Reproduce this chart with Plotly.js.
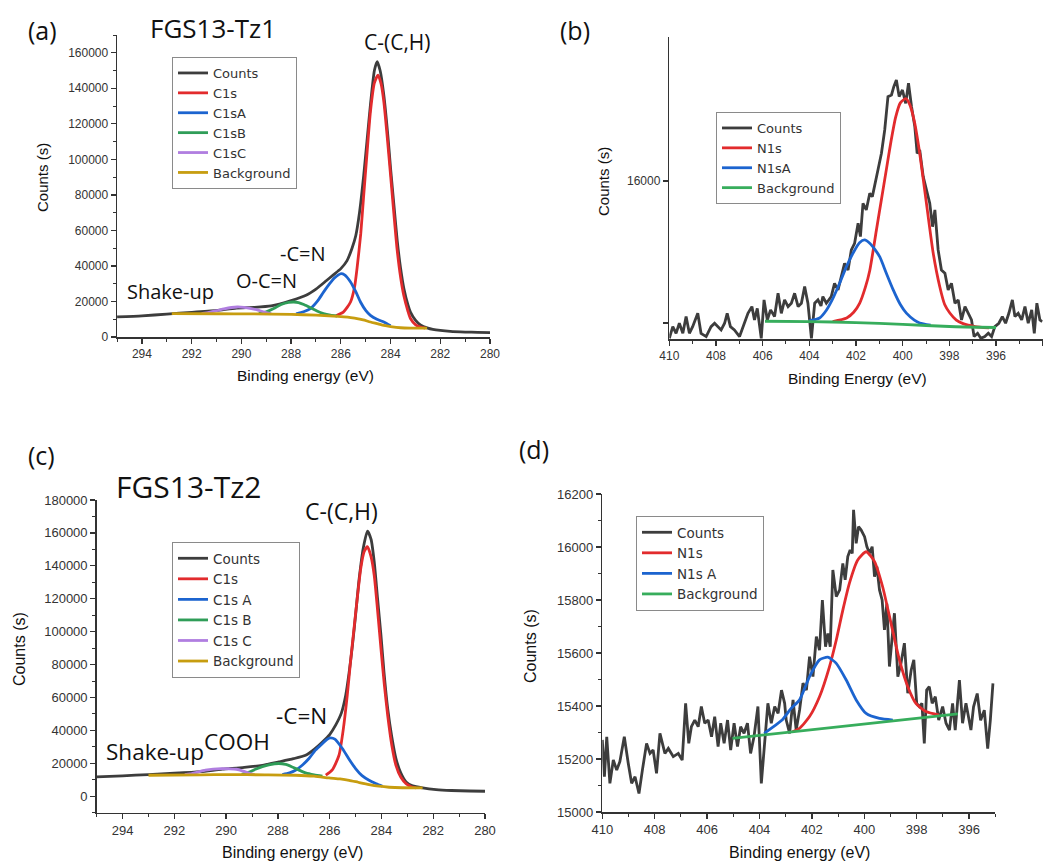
<!DOCTYPE html>
<html><head><meta charset="utf-8">
<script src="https://cdn.plot.ly/plotly-3.0.1.min.js"></script>
<style>html,body{margin:0;padding:0;background:#fff}#chart{width:1053px;height:861px}</style>
</head><body><div id="chart"></div>
<script>
// ---------- Panel (a) FGS13-Tz1, C1s ----------
const aCountsX = [295,294,293,292,291,290.2,289.5,288.8,288,287.4,287,286.6,286.3,286,285.75,285.55,285.4,285.25,285.08,284.95,284.8,284.65,284.54,284.42,284.27,284.1,284.0,283.85,283.73,283.6,283.46,283.3,283.2,283.0,282.8,282.5,282.3,282.0,281.6,281,280.5,280];
const aCountsY = [11300,11900,12900,13900,15000,16300,16700,17500,20500,23500,27000,31500,35000,38500,43000,50000,57000,70000,91000,110000,132000,150000,155000,150000,136000,112000,95000,72000,54000,39000,27000,18000,14000,9500,6800,5000,4300,3700,3200,2800,2600,2500];
const aC1sX = [286.2,285.9,285.61,285.45,285.35,285.2,285.08,284.95,284.81,284.65,284.5,284.38,284.27,284.13,284.0,283.87,283.74,283.6,283.47,283.3,283.2,283.0,282.8,282.6];
const aC1sY = [12000,14000,19700,28000,38500,58000,79800,103000,126800,143000,147400,142500,132400,112000,91100,70000,49800,34000,23500,14500,10400,7000,5600,5000];
const aC1sAX = [287.8,287.5,287.22,286.95,286.69,286.45,286.28,286.1,285.99,285.85,285.61,285.4,285.21,285.0,284.81,284.55,284.27,284.0];
const aC1sAY = [13000,14200,16000,20000,25400,30000,32900,35000,35700,35000,31000,25500,19700,15000,12200,10000,8400,6300];
const aC1sBX = [289.3,289.0,288.7,288.4,288.1,287.89,287.7,287.49,287.2,286.96,286.7,286.42,286.15];
const aC1sBY = [13100,14200,16000,18300,19500,19700,19400,18300,16300,14600,13200,12300,11800];
const aC1sCX = [291.6,291.3,291.0,290.7,290.4,290.17,289.9,289.6,289.3,289.0,288.8];
const aC1sCY = [13200,13900,14800,15800,16600,16900,16700,16000,15000,13700,13100];
const aBgX = [292.8,291,289.6,288,287,286.3,285.88,285.6,285.35,285.1,284.81,284.5,284.27,284.0,283.6,283.2,282.53];
const aBgY = [13200,13100,13000,12700,12300,11800,11300,10900,10400,9600,8450,7400,6570,5900,5200,5000,5000];

// ---------- Panel (b) N1s ----------
const bCountsX = [410.0,409.85,409.71,409.57,409.42,409.28,409.14,409.0,408.78,408.64,408.42,408.21,408.06,407.92,407.78,407.63,407.52,407.38,407.21,406.99,406.78,406.63,406.46,406.35,406.23,406.06,405.94,405.8,405.66,405.49,405.34,405.2,405.06,404.91,404.77,404.63,404.48,404.34,404.2,404.06,403.91,403.77,403.63,403.5,403.42,403.27,403.06,402.92,402.77,402.63,402.49,402.34,402.2,402.06,401.91,401.81,401.7,401.56,401.41,401.3,401.2,401.06,400.91,400.77,400.63,400.48,400.38,400.27,400.15,400.01,399.87,399.75,399.62,399.48,399.38,399.27,399.12,398.98,398.84,398.72,398.62,398.48,398.34,398.19,398.05,397.91,397.76,397.62,397.48,397.33,397.19,397.05,396.94,396.79,396.65,396.48,396.33,396.19,396.05,395.88,395.73,395.59,395.45,395.3,395.19,395.05,394.9,394.76,394.62,394.47,394.36,394.25,394.12,394.02];
const bCountsY = [14892,14974,14927,14998,14927,15045,14927,14974,15068,14927,14904,14974,14998,14974,14951,14998,15068,14974,14951,14904,14998,15068,15115,15021,15103,14892,15162,15021,15092,15045,15209,15068,15162,15115,15139,15209,15115,15139,15256,15139,14892,15139,15162,15120,15186,15139,15186,15279,15233,15326,15420,15373,15514,15561,15702,15608,15843,15796,15913,15890,15960,16077,16195,16359,16594,16606,16664,16711,16594,16641,16547,16688,16523,16383,16195,16218,16031,15937,15843,15678,15796,15514,15373,15350,15233,15279,15139,15162,15021,15115,15068,15021,14904,14927,14892,14904,14927,14904,14974,14998,15045,14998,15068,15162,15045,15068,15021,15115,14998,15092,14927,15139,15021,15009];
const bN1sX = [403.0,402.4,402.1,401.84,401.6,401.41,401.13,400.9,400.7,400.5,400.3,400.1,399.87,399.7,399.5,399.27,398.98,398.69,398.41,398.2,397.98,397.7,397.41,396.9,396.3];
const bN1sY = [15010,15035,15075,15140,15250,15370,15650,15880,16080,16280,16450,16550,16580,16540,16420,16195,15840,15490,15255,15130,15070,15020,14995,14975,14965];
const bN1sAX = [404.0,403.56,403.27,403.0,402.7,402.4,402.1,401.85,401.63,401.4,401.2,400.98,400.7,400.41,400.1,399.84,399.5,399.27,398.8];
const bN1sAY = [15015,15035,15090,15170,15280,15400,15500,15565,15585,15560,15520,15465,15350,15235,15130,15069,15020,15000,14985];
const bBgX = [405.9,404,402,400,398,396.0];
const bBgY = [15012,15010,15003,14990,14975,14968];
const bYTickVals = [15000,16000];
const bYTickText = ['','16000'];

// ---------- Panel (c) FGS13-Tz2, C1s ----------
const cCountsX = [295,294,293,292,291,290.15,289.3,288.6,287.96,287.4,286.93,286.6,286.28,286.0,285.77,285.55,285.38,285.25,285.12,285.0,284.86,284.7,284.54,284.4,284.28,284.15,284.02,283.9,283.76,283.6,283.44,283.25,283.05,282.8,282.41,281.89,281.3,280.6,280.0];
const cCountsY = [11750,12400,13170,14000,15000,16410,17500,18800,20870,22800,24900,28500,33000,37500,43200,50500,61400,75000,91800,110000,132300,151000,161100,156000,142500,120000,97900,75000,53300,36000,22900,14000,8700,6300,5070,4050,3500,3200,3040];
const cC1sX = [286.15,285.9,285.64,285.48,285.32,285.2,285.06,284.93,284.8,284.67,284.54,284.41,284.28,284.15,284.02,283.89,283.76,283.6,283.44,283.25,283.05,282.85,282.67];
const cC1sY = [12770,16000,24900,40000,61400,81000,101900,121000,138400,148500,151600,146000,134300,113000,89800,68000,49200,31000,18800,11500,7700,5800,5070];
const cC1sAX = [287.83,287.55,287.32,287.05,286.8,286.55,286.28,286.1,285.97,285.8,285.51,285.25,285.0,284.75,284.48,284.2,283.96];
const cC1sAY = [13170,14200,15800,19000,22900,28000,32000,34600,35500,34700,29000,22500,16800,12500,9700,7600,6100];
const cC1sBX = [289.4,289.1,288.87,288.6,288.35,287.96,287.7,287.45,287.2,286.93,286.6,286.28];
const cC1sBY = [13300,14700,16400,18000,19100,19900,19300,17800,16000,14200,13000,12200];
const cC1sCX = [291.6,291.4,291.1,290.8,290.5,290.2,289.9,289.6,289.35,289.1,288.9];
const cC1sCY = [13200,13600,14700,15800,16500,16800,16700,16400,15300,13900,13200];
const cBgX = [293.0,291,289.9,288.5,287.32,286.6,286.03,285.6,285.25,284.9,284.48,284.1,283.7,283.2,282.41];
const cBgY = [12770,13000,13170,13000,12770,12200,11150,10500,9700,8500,7100,6100,5470,5150,5070];

// ---------- Panel (d) N1s ----------
const dCountsX = [410.0,409.92,409.83,409.71,409.58,409.45,409.33,409.16,409.01,408.88,408.75,408.60,408.47,408.31,408.18,408.06,407.93,407.80,407.61,407.48,407.29,407.10,406.95,406.82,406.70,406.60,406.47,406.34,406.22,406.09,405.96,405.83,405.71,405.58,405.48,405.35,405.22,405.10,404.97,404.84,404.72,404.59,404.46,404.34,404.21,404.06,403.93,403.80,403.68,403.55,403.42,403.29,403.16,403.04,402.98,402.85,402.72,402.60,402.47,402.34,402.21,402.09,401.96,401.83,401.71,401.60,401.48,401.39,401.30,401.20,401.07,400.94,400.82,400.73,400.63,400.54,400.46,400.41,400.31,400.22,400.12,399.99,399.90,399.80,399.70,399.61,399.52,399.42,399.32,399.23,399.14,399.04,398.94,398.85,398.72,398.60,398.47,398.34,398.21,398.11,398.00,397.90,397.80,397.71,397.62,397.52,397.41,397.29,397.16,397.01,396.88,396.75,396.63,396.53,396.37,396.25,396.12,395.93,395.83,395.69,395.56,395.42,395.29,395.19,395.09];
const dCountsY = [15272,15133,15284,15108,15196,15158,15190,15284,15184,15108,15133,15070,15158,15259,15221,15234,15146,15297,15221,15240,15209,15221,15196,15410,15259,15322,15347,15322,15398,15335,15347,15284,15360,15247,15335,15259,15347,15234,15335,15247,15322,15297,15335,15221,15284,15398,15108,15284,15410,15335,15398,15372,15460,15410,15347,15297,15423,15309,15385,15486,15460,15586,15511,15662,15611,15800,15624,15674,15624,15913,15813,15838,15938,15876,15964,15989,15976,16140,16014,16077,16064,16039,16001,15976,16001,15888,15926,15838,15800,15687,15787,15549,15662,15750,15511,15561,15637,15448,15536,15574,15410,15398,15410,15259,15460,15473,15410,15435,15347,15398,15335,15309,15410,15309,15498,15335,15410,15309,15397,15447,15346,15384,15239,15346,15485];
const dN1sX = [402.74,402.47,402.09,401.71,401.33,401.07,400.82,400.57,400.25,399.93,399.61,399.3,398.98,398.66,398.34,398.03,397.65,397.14];
const dN1sY = [15303,15316,15360,15435,15548,15649,15762,15863,15951,15982,15945,15850,15712,15574,15473,15410,15379,15366];
const dN1sAX = [403.82,403.15,402.8,402.47,402.09,401.71,401.39,401.07,400.69,400.31,399.93,399.42,398.91];
const dN1sAY = [15297,15346,15390,15423,15511,15574,15584,15561,15498,15423,15372,15353,15347];
const dBgX = [405.03,396.43];
const dBgY = [15278,15370];

// ---------- colours ----------
const colCounts = '#3d3d3d', colRed = '#e22b2d', colBlue = '#1c64cf', colGreen = '#2f9d58', colGreenN = '#37ad5c', colPurple = '#b07ee0', colGold = '#c79d10';

function tr(x, y, name, color, xa, ya, leg, shape) {
  return {x: x, y: y, name: name, type: 'scatter', mode: 'lines', xaxis: xa, yaxis: ya, legend: leg,
          line: {color: color, width: 2.8, shape: shape || 'spline', smoothing: 0.6}, hoverinfo: 'skip'};
}

const data = [
  tr(aCountsX, aCountsY, 'Counts', colCounts, 'x', 'y', 'legend'),
  tr(aC1sX, aC1sY, 'C1s', colRed, 'x', 'y', 'legend'),
  tr(aC1sAX, aC1sAY, 'C1sA', colBlue, 'x', 'y', 'legend'),
  tr(aC1sBX, aC1sBY, 'C1sB', colGreen, 'x', 'y', 'legend'),
  tr(aC1sCX, aC1sCY, 'C1sC', colPurple, 'x', 'y', 'legend'),
  tr(aBgX, aBgY, 'Background', colGold, 'x', 'y', 'legend'),

  tr(bCountsX, bCountsY, 'Counts', colCounts, 'x2', 'y2', 'legend2', 'linear'),
  tr(bN1sX, bN1sY, 'N1s', colRed, 'x2', 'y2', 'legend2'),
  tr(bN1sAX, bN1sAY, 'N1sA', colBlue, 'x2', 'y2', 'legend2'),
  tr(bBgX, bBgY, 'Background', colGreenN, 'x2', 'y2', 'legend2'),

  tr(cCountsX, cCountsY, 'Counts', colCounts, 'x3', 'y3', 'legend3'),
  tr(cC1sX, cC1sY, 'C1s', colRed, 'x3', 'y3', 'legend3'),
  tr(cC1sAX, cC1sAY, 'C1s A', colBlue, 'x3', 'y3', 'legend3'),
  tr(cC1sBX, cC1sBY, 'C1s B', colGreen, 'x3', 'y3', 'legend3'),
  tr(cC1sCX, cC1sCY, 'C1s C', colPurple, 'x3', 'y3', 'legend3'),
  tr(cBgX, cBgY, 'Background', colGold, 'x3', 'y3', 'legend3'),

  tr(dCountsX, dCountsY, 'Counts', colCounts, 'x4', 'y4', 'legend4', 'linear'),
  tr(dN1sX, dN1sY, 'N1s', colRed, 'x4', 'y4', 'legend4'),
  tr(dN1sAX, dN1sAY, 'N1s A', colBlue, 'x4', 'y4', 'legend4'),
  tr(dBgX, dBgY, 'Background', colGreenN, 'x4', 'y4', 'legend4', 'linear')
];

const W = 1053, H = 861;
const px = v => v / W, py = v => 1 - v / H;
const tickFont = {family: 'Liberation Sans, Arial, sans-serif', size: 12, color: '#333'};

function axis(extra) {
  return Object.assign({
    showline: true, linecolor: '#333', linewidth: 1.5, showgrid: false, zeroline: false,
    ticks: 'outside', ticklen: 5, tickwidth: 1.3, tickcolor: '#333', tickfont: tickFont,
    tickformat: 'd', separatethousands: false, exponentformat: 'none',
    mirror: false, fixedrange: true
  }, extra);
}
function minor(d) { return {dtick: d, ticks: 'outside', ticklen: 3, tickwidth: 1, tickcolor: '#333'}; }

function legendBox(x, y, size) {
  return {x: px(x), y: py(y), xanchor: 'left', yanchor: 'top', bgcolor: '#fff', bordercolor: '#8a8a8a', borderwidth: 1,
          font: {family: 'DejaVu Sans, Liberation Sans, sans-serif', size: size, color: '#333'}, tracegroupgap: 0, itemwidth: 30};
}

function ann(text, x, y, size, family, extra) {
  return Object.assign({text: text, x: px(x), y: py(y), xref: 'paper', yref: 'paper', showarrow: false,
    xanchor: 'center', yanchor: 'middle', font: {family: family, size: size, color: '#111'}}, extra || {});
}
const lab = 'Open Sans, Noto Sans, sans-serif';
const axf = 'Liberation Sans, Arial, sans-serif';
const f13 = Object.assign({}, tickFont, {size: 13});

const layout = {
  width: W, height: H, margin: {l: 0, r: 0, t: 0, b: 0}, paper_bgcolor: '#fff', plot_bgcolor: 'rgba(0,0,0,0)',
  showlegend: true,
  xaxis: axis({domain: [px(117.1), px(490)], range: [295, 280], anchor: 'y', dtick: 2, tick0: 0, minor: minor(1)}),
  yaxis: axis({domain: [py(337), py(35)], range: [0, 170000], anchor: 'x', dtick: 20000, tick0: 0, minor: minor(10000)}),
  xaxis2: axis({domain: [px(669.3), px(1042.7)], range: [410, 394], anchor: 'y2', dtick: 2, tick0: 0, minor: minor(1)}),
  yaxis2: axis({domain: [py(339), py(37)], range: [14887, 17014], anchor: 'x2', tickmode: 'array', tickvals: bYTickVals, ticktext: bYTickText}),
  xaxis3: axis({domain: [px(96.7), px(485)], range: [295, 280], anchor: 'y3', dtick: 2, tick0: 0, minor: minor(1), tickfont: f13}),
  yaxis3: axis({domain: [py(812.7), py(500)], range: [-10000, 180000], anchor: 'x3', dtick: 20000, tick0: 0, minor: minor(10000), tickfont: f13}),
  xaxis4: axis({domain: [px(602.3), px(995.3)], range: [410, 395], anchor: 'y4', dtick: 2, tick0: 0, minor: minor(1), tickfont: f13}),
  yaxis4: axis({domain: [py(812), py(494)], range: [15000, 16200], anchor: 'x4', dtick: 200, tick0: 0, minor: minor(100), tickfont: f13}),
  legend: legendBox(172, 57, 13),
  legend2: legendBox(716, 112, 13),
  legend3: legendBox(172, 542, 13.5),
  legend4: legendBox(636, 516, 13.5),
  annotations: [
    ann('(a)', 42, 30, 25, lab),
    ann('FGS13-Tz1', 213, 28, 26, lab),
    ann('C-(C,H)', 397, 42, 21, lab),
    ann('-C=N', 303, 253, 20, lab),
    ann('O-C=N', 266, 280, 20, lab),
    ann('Shake-up', 170, 291, 20, lab),
    ann('Counts (s)', 43, 178, 15, axf, {textangle: -90}),
    ann('Binding energy (eV)', 305, 376, 15.5, axf),

    ann('(b)', 575, 30, 25, lab),
    ann('Counts (s)', 603, 182, 15, axf, {textangle: -90}),
    ann('Binding Energy (eV)', 857, 379, 15.5, axf),

    ann('(c)', 41, 455, 25, lab),
    ann('FGS13-Tz2', 188, 486, 30, lab),
    ann('C-(C,H)', 341, 511, 23, lab),
    ann('-C=N', 301, 715, 22.5, lab),
    ann('COOH', 237, 741, 22.5, lab),
    ann('Shake-up', 155, 751, 22.5, lab),
    ann('Counts (s)', 19, 649, 16, axf, {textangle: -90}),
    ann('Binding energy (eV)', 292, 852, 16, axf),

    ann('(d)', 534, 449, 25, lab),
    ann('Counts (s)', 530, 646, 16, axf, {textangle: -90}),
    ann('Binding energy (eV)', 799, 852, 16, axf)
  ]
};

Plotly.newPlot('chart', data, layout, {displayModeBar: false, staticPlot: true});
</script></body></html>
